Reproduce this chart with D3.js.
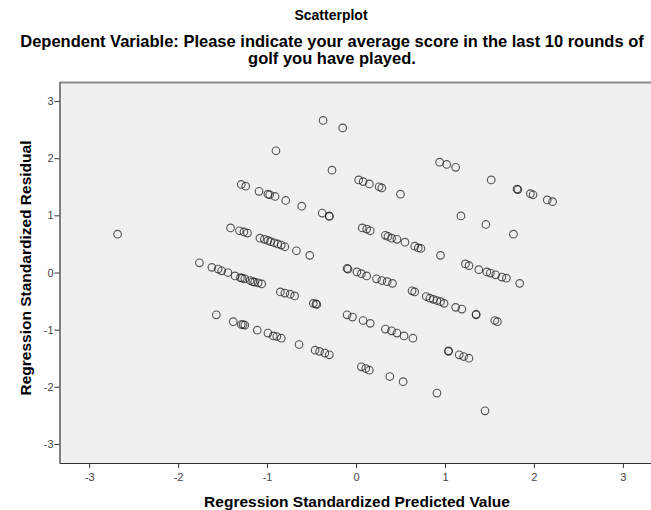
<!DOCTYPE html>
<html>
<head>
<meta charset="utf-8">
<script src="https://cdn.jsdelivr.net/npm/d3@7"></script>
<style>
  body { margin: 0; background: #fff; }
  svg { display: block; }
  text { font-family: Arial, "Liberation Sans", sans-serif; }
</style>
</head>
<body>
<svg id="chart" width="651" height="510"></svg>
<script>
const titleText = "Scatterplot";
const subtitleLines = [
  "Dependent Variable: Please indicate your average score in the last 10 rounds of",
  "golf you have played."
];
const xLabel = "Regression Standardized Predicted Value";
const yLabel = "Regression Standardized Residual";
const xTicks = [-3, -2, -1, 0, 1, 2, 3];
const yTicks = [-3, -2, -1, 0, 1, 2, 3];

// Regression standardized predicted values
const predicted = [
  -2.68,
  // band E
  -0.37, -0.15, 0.94, 1.02, 1.12, 1.52, 1.81, 1.82, 1.96, 1.99, 2.15, 2.21,
  // band D
  -0.90, -0.27, 0.03, 0.08, 0.15, 0.26, 0.29, 0.50, 1.18, 1.46, 1.77,
  // band C
  -1.29, -1.24, -1.09, -0.99, -0.97, -0.91, -0.79, -0.61, -0.38, -0.30, -0.30,
  0.07, 0.12, 0.16, 0.33, 0.36, 0.40, 0.46, 0.55, 0.66, 0.70, 0.73, 0.95,
  1.23, 1.27, 1.38, 1.47, 1.51, 1.57, 1.64, 1.69, 1.84,
  // band B
  -1.41, -1.31, -1.26, -1.22, -1.08, -1.03, -0.99, -0.96, -0.92, -0.88, -0.84, -0.80,
  -0.67, -0.52, -0.10, -0.09, 0.01, 0.06, 0.12, 0.23, 0.29, 0.35, 0.41, 0.63, 0.66,
  0.79, 0.83, 0.87, 0.91, 0.95, 0.99, 1.12, 1.19, 1.35, 1.35, 1.56, 1.59,
  // band A
  -1.76, -1.62, -1.55, -1.51, -1.44, -1.36, -1.30, -1.28, -1.25, -1.19, -1.16, -1.14,
  -1.10, -1.06, -0.85, -0.80, -0.74, -0.69, -0.48, -0.45, -0.44, -0.10, -0.04, 0.08,
  0.16, 0.33, 0.40, 0.46, 0.54, 0.64, 1.04, 1.04, 1.16, 1.21, 1.27,
  // band F
  -1.57, -1.38, -1.29, -1.27, -1.25, -1.11, -0.99, -0.93, -0.89, -0.84, -0.64, -0.46,
  -0.41, -0.35, -0.30, 0.06, 0.11, 0.15, 0.38, 0.53, 0.91, 1.45
];

// Regression standardized residuals
const residual = [
  0.67,
  // band E
  2.66, 2.53, 1.93, 1.89, 1.84, 1.62, 1.46, 1.45, 1.38, 1.36, 1.27, 1.24,
  // band D
  2.13, 1.79, 1.62, 1.59, 1.55, 1.50, 1.48, 1.37, 0.99, 0.84, 0.67,
  // band C
  1.54, 1.51, 1.42, 1.37, 1.36, 1.33, 1.26, 1.16, 1.04, 0.99, 0.98,
  0.78, 0.76, 0.73, 0.65, 0.63, 0.60, 0.58, 0.53, 0.46, 0.43, 0.42, 0.30,
  0.15, 0.12, 0.05, 0.01, -0.01, -0.04, -0.08, -0.10, -0.19,
  // band B
  0.78, 0.73, 0.71, 0.69, 0.60, 0.58, 0.56, 0.54, 0.52, 0.50, 0.48, 0.45,
  0.38, 0.30, 0.07, 0.06, 0.01, -0.02, -0.06, -0.11, -0.14, -0.16, -0.19, -0.32, -0.34,
  -0.42, -0.45, -0.47, -0.49, -0.51, -0.54, -0.61, -0.64, -0.73, -0.74, -0.84, -0.86,
  // band A
  0.17, 0.09, 0.06, 0.03, 0.00, -0.06, -0.09, -0.10, -0.11, -0.14, -0.16, -0.17,
  -0.18, -0.20, -0.34, -0.36, -0.38, -0.41, -0.54, -0.55, -0.56, -0.74, -0.78, -0.84,
  -0.89, -0.99, -1.02, -1.06, -1.11, -1.15, -1.37, -1.38, -1.44, -1.47, -1.50,
  // band F
  -0.74, -0.86, -0.91, -0.91, -0.92, -1.01, -1.06, -1.11, -1.12, -1.15, -1.26, -1.36,
  -1.38, -1.41, -1.44, -1.65, -1.68, -1.71, -1.82, -1.91, -2.11, -2.42
];

const points = predicted.map((p, i) => ({ x: p, y: residual[i] }));

const svg = d3.select("#chart");
const plot = { left: 59.5, right: 652.5, top: 82, bottom: 463 };

const x = d3.scaleLinear().domain([-3.333, 3.333]).range([plot.left, plot.right]);
const y = d3.scaleLinear().domain([-3.333, 3.333]).range([plot.bottom, plot.top]);

// plot background
svg.append("rect")
  .attr("x", plot.left).attr("y", plot.top)
  .attr("width", plot.right - plot.left).attr("height", plot.bottom - plot.top)
  .attr("fill", "#f0f0f0");

// top border (grey)
svg.append("line")
  .attr("x1", plot.left).attr("x2", plot.right)
  .attr("y1", plot.top + 0.5).attr("y2", plot.top + 0.5)
  .attr("stroke", "#8c8c8c").attr("stroke-width", 2);

// axes
const xAxis = d3.axisBottom(x).tickValues(xTicks).tickSize(5).tickSizeOuter(0).tickFormat(d3.format("d"));
const yAxis = d3.axisLeft(y).tickValues(yTicks).tickSize(5).tickSizeOuter(0).tickFormat(d3.format("d"));

const gx = svg.append("g").attr("transform", `translate(0,${plot.bottom})`).call(xAxis);
const gy = svg.append("g").attr("transform", `translate(${plot.left},0)`).call(yAxis);

[gx, gy].forEach(g => {
  g.select(".domain").attr("stroke", "#333").attr("stroke-width", 1.2);
  g.selectAll(".tick line").attr("stroke", "#333");
  g.selectAll(".tick text")
    .attr("fill", "#444")
    .style("font-size", "11px")
    .style("font-family", "Arial, 'Liberation Sans', sans-serif")
    .text(d => String(d));
});
gx.selectAll(".tick text").attr("dy", "0.9em");
gy.selectAll(".tick text").attr("x", -6);

// points
svg.append("g")
  .selectAll("circle")
  .data(points)
  .join("circle")
  .attr("cx", d => x(d.x))
  .attr("cy", d => y(d.y))
  .attr("r", 3.8)
  .attr("fill", "none")
  .attr("stroke", "#1a1a1a")
  .attr("stroke-opacity", 0.72)
  .attr("stroke-width", 1.15);

// titles
svg.append("text")
  .attr("x", 331).attr("y", 20)
  .attr("text-anchor", "middle")
  .style("font-size", "14px").style("font-weight", "bold")
  .attr("fill", "#000")
  .text(titleText);

subtitleLines.forEach((line, i) => {
  svg.append("text")
    .attr("x", 332).attr("y", 47 + i * 17)
    .attr("text-anchor", "middle")
    .style("font-size", "16.5px").style("font-weight", "bold")
    .attr("fill", "#000")
    .text(line);
});

svg.append("text")
  .attr("x", 357).attr("y", 507)
  .attr("text-anchor", "middle")
  .style("font-size", "15.5px").style("font-weight", "bold")
  .attr("fill", "#000")
  .text(xLabel);

svg.append("text")
  .attr("transform", `translate(31,268) rotate(-90)`)
  .attr("text-anchor", "middle")
  .style("font-size", "15.5px").style("font-weight", "bold")
  .attr("fill", "#000")
  .text(yLabel);
</script>
</body>
</html>
